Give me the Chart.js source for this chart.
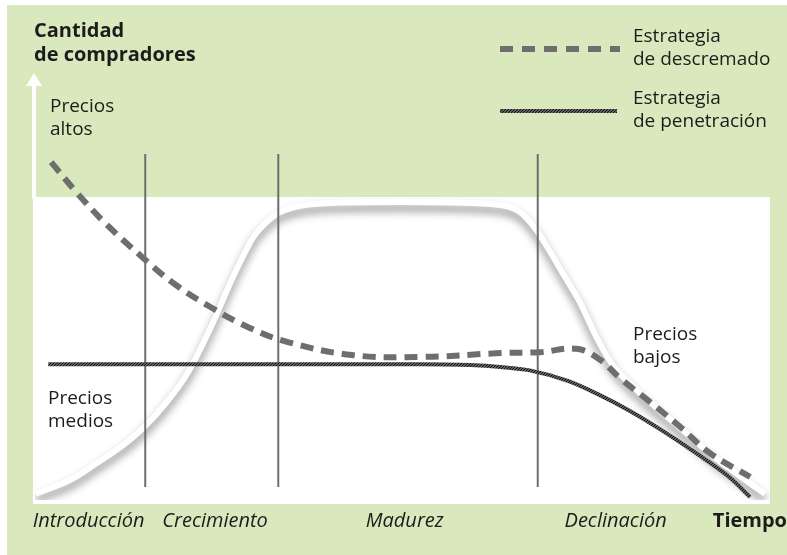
<!DOCTYPE html>
<html lang="es">
<head>
<meta charset="UTF-8">
<title>Estrategias de precios y ciclo de vida</title>
<style>
  html, body { margin: 0; padding: 0; background: #fff; }
  #chartCanvas { display: block; }
</style>
</head>
<body>
<canvas id="chartCanvas" width="787" height="555"></canvas>

<script src="https://cdn.jsdelivr.net/npm/chart.js"></script>
<script>
// datos (x = tiempo 0-100, y = cantidad 0-100)
const lifeX = [0.1, 4.8, 8.4, 11.6, 14.7, 17.7, 20.7, 23.8, 26.5, 28.6, 30.2, 33.1, 36.1, 40.1, 49.7, 59.2, 63.9, 66.0, 68.0, 69.7, 71.7, 74.1, 76.6, 78.9, 82.3, 87.8, 92.2, 95.9, 99.3];
const lifeY = [1.3, 4.2, 7.7, 11.0, 15.0, 20.0, 26.3, 35.6, 45.0, 51.7, 55.8, 59.8, 61.3, 61.9, 62.1, 61.9, 61.3, 60.0, 56.7, 52.7, 47.5, 41.3, 33.3, 27.5, 22.3, 15.0, 9.2, 5.0, 1.3];

const skimX = [2.2, 5.7, 9.8, 14.3, 18.8, 24.1, 29.3, 34.4, 43.1, 52.4, 63.3, 68.7, 73.7, 76.9, 79.6, 83.7, 87.8, 91.8, 97.3];
const skimY = [70.4, 64.0, 57.3, 51.0, 45.2, 40.0, 35.8, 32.9, 30.2, 29.8, 30.6, 30.8, 31.5, 29.2, 25.4, 20.4, 15.2, 9.8, 4.8];

const penX = [1.8, 15.6, 36.1, 52.4, 59.2, 63.3, 67.3, 72.5, 76.5, 81.0, 85.4, 90.1, 94.6, 97.3];
const penY = [28.3, 28.3, 28.3, 28.3, 28.1, 27.7, 27.0, 24.8, 22.1, 18.5, 14.4, 9.6, 4.6, 0.6];

const stageBounds = [15.0, 33.1, 68.4];
const stageTop = 72.1;
const stageBottom = 2.7;
const stageNames = ['Introducción', 'Crecimiento', 'Madurez', 'Declinación'];
const stageCenters = [7.3, 24.5, 50.3, 79.0];

const FONT = '"Open Sans", "Noto Sans", sans-serif';
const GREEN = '#dae8bd';
const INK = '#1c1c1c';
const GREY = '#6e6e6e';

const pts = (xs, ys) => xs.map((x, i) => ({ x: x, y: ys[i] }));

// patron rayado para la linea de penetracion
function hatchPattern(ctx) {
    const c = document.createElement('canvas');
    c.width = 3; c.height = 3;
    const g = c.getContext('2d');
    g.fillStyle = '#b4b4b4';
    g.fillRect(0, 0, 3, 3);
    g.strokeStyle = '#151515';
    g.lineWidth = 1.5;
    g.beginPath();
    g.moveTo(0, 3); g.lineTo(3, 0);
    g.moveTo(-1, 1); g.lineTo(1, -1);
    g.moveTo(2, 4); g.lineTo(4, 2);
    g.stroke();
    return ctx.createPattern(c, 'repeat');
}

const ctx = document.getElementById('chartCanvas').getContext('2d');
const hatch = hatchPattern(ctx);

const datasets = [];
datasets.push({
    label: 'Skim', data: pts(skimX, skimY), order: 1,
    borderColor: GREY, borderWidth: 6, borderDash: [13, 8], tension: 0.4
});
datasets.push({
    label: 'Pen', data: pts(penX, penY), order: 2,
    borderColor: hatch, borderWidth: 4, cubicInterpolationMode: 'monotone'
});
stageBounds.forEach((b, i) => {
    datasets.push({
        label: 'stage' + i, data: [{ x: b, y: stageTop }, { x: b, y: stageBottom }], order: 3,
        borderColor: GREY, borderWidth: 2, tension: 0
    });
});
datasets.push({
    label: 'Life', data: pts(lifeX, lifeY), order: 4, shadow: true,
    borderColor: '#ffffff', borderWidth: 6, tension: 0.35
});

function multiline(c, lines, x, y, lh) {
    lines.forEach((t, i) => c.fillText(t, x, y + i * lh));
}

const backdrop = {
    id: 'backdrop',
    beforeDraw(chart) {
        const c = chart.ctx;
        c.save();
        c.fillStyle = '#ffffff';
        c.fillRect(0, 0, chart.width, chart.height);
        c.fillStyle = GREEN;
        c.fillRect(7, 5, chart.width - 7, chart.height - 5);
        c.fillStyle = '#ffffff';
        c.fillRect(33, 197, 737, 307);
        // flecha del eje vertical
        c.fillRect(32, 84, 4, 115);
        c.beginPath();
        c.moveTo(34, 73); c.lineTo(42, 86); c.lineTo(26, 86);
        c.closePath();
        c.fill();
        c.restore();
    },
    beforeDatasetDraw(chart, args) {
        if (chart.data.datasets[args.index].shadow) {
            const c = chart.ctx;
            c.save();
            c.shadowColor = 'rgba(0,0,0,0.45)';
            c.shadowBlur = 9;
            c.shadowOffsetX = 0;
            c.shadowOffsetY = 6;
        }
    },
    afterDatasetDraw(chart, args) {
        if (chart.data.datasets[args.index].shadow) chart.ctx.restore();
    },
    afterDraw(chart) {
        const c = chart.ctx;
        const xs = chart.scales.x;
        c.save();
        c.fillStyle = INK;
        c.textBaseline = 'middle';

        c.font = 'bold 20px ' + FONT;
        c.textAlign = 'left';
        multiline(c, ['Cantidad', 'de compradores'], 34, 31, 24);

        c.font = '19px ' + FONT;
        multiline(c, ['Precios', 'altos'], 50, 107, 23);
        multiline(c, ['Precios', 'medios'], 48, 399, 23);
        multiline(c, ['Precios', 'bajos'], 633, 335, 23);
        multiline(c, ['Estrategia', 'de descremado'], 633, 37, 23);
        multiline(c, ['Estrategia', 'de penetración'], 633, 99, 23);

        // leyenda
        c.strokeStyle = GREY;
        c.lineWidth = 6;
        c.setLineDash([13, 9]);
        c.beginPath(); c.moveTo(500, 49); c.lineTo(620, 49); c.stroke();
        c.setLineDash([]);
        c.strokeStyle = hatch;
        c.lineWidth = 4;
        c.beginPath(); c.moveTo(500, 111); c.lineTo(617, 111); c.stroke();

        c.fillStyle = INK;
        c.font = 'italic 20px ' + FONT;
        c.textAlign = 'center';
        stageNames.forEach((n, i) => c.fillText(n, xs.getPixelForValue(stageCenters[i]), 521));
        c.font = 'bold 20px ' + FONT;
        c.textAlign = 'right';
        c.fillText('Tiempo', 787, 521);
        c.restore();
    }
};

new Chart(ctx, {
    type: 'line',
    data: { datasets: datasets },
    options: {
        responsive: false,
        animation: false,
        layout: { padding: { left: 35, right: 17, top: 20, bottom: 55 } },
        elements: { point: { radius: 0 } },
        scales: {
            x: { type: 'linear', min: 0, max: 100, display: false },
            y: { type: 'linear', min: 0, max: 100, display: false }
        },
        plugins: { legend: { display: false }, tooltip: { enabled: false } }
    },
    plugins: [backdrop]
});
</script>
</body>
</html>
